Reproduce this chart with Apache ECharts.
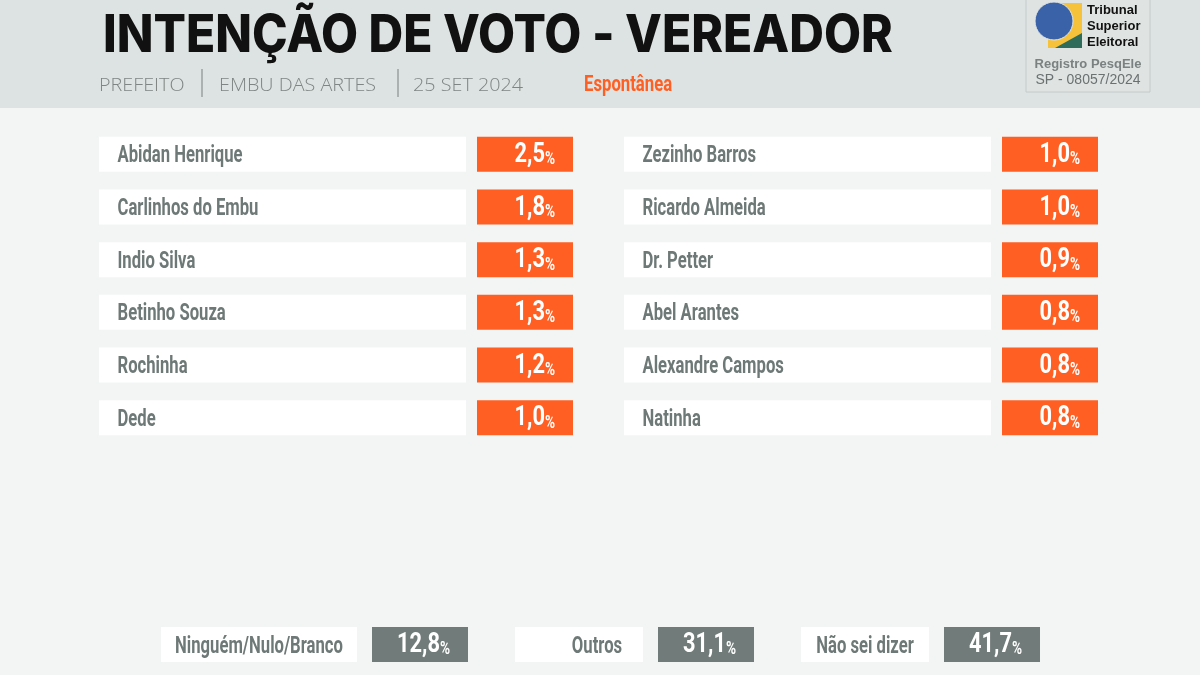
<!DOCTYPE html>
<html><head><meta charset="utf-8">
<script src="https://cdn.jsdelivr.net/npm/echarts@6/dist/echarts.min.js"></script>
<style>html,body{margin:0;padding:0;background:#f3f4f4}#c{width:1200px;height:675px}</style>
</head><body><div id="c"></div>
<script>
// ---------- DATA ----------
const titleText = 'INTENÇÃO DE VOTO - VEREADOR';
const subtitleItems = ['PREFEITO', 'EMBU DAS ARTES', '25 SET 2024'];
const typeLabel = 'Espontânea';
const leftNames = ['Abidan Henrique', 'Carlinhos do Embu', 'Indio Silva', 'Betinho Souza', 'Rochinha', 'Dede'];
const leftValues = [2.5, 1.8, 1.3, 1.3, 1.2, 1.0];
const rightNames = ['Zezinho Barros', 'Ricardo Almeida', 'Dr. Petter', 'Abel Arantes', 'Alexandre Campos', 'Natinha'];
const rightValues = [1.0, 1.0, 0.9, 0.8, 0.8, 0.8];
const otherNames = ['Ninguém/Nulo/Branco', 'Outros', 'Não sei dizer'];
const otherValues = [12.8, 31.1, 41.7];
const logoLines = ['Tribunal', 'Superior', 'Eleitoral'];
const registryLines = ['Registro PesqEle', 'SP - 08057/2024'];

// ---------- STYLE ----------
const ORANGE = '#ff5f22', GRAY_BOX = '#717b79', NAME_COLOR = '#6e7977';
const COND = 'Roboto';
const NAME_SX = 0.68, VAL_SX = 0.78;
const OTHER_NAME_W = [196, 128, 128];
const OTHER_TEXT_DX = [0, 18, 0];
const fmt = v => v.toFixed(1).replace('.', ',');

function valueText(v, xr, yc) {
  return {
    type: 'text', x: xr, y: yc, scaleX: VAL_SX,
    style: {
      text: '{v|' + fmt(v) + '}{p|%}', x: 0, y: 0, align: 'right', verticalAlign: 'middle',
      rich: {
        v: { fontFamily: COND, fontWeight: 'bold', fontSize: 28, fill: '#fff', verticalAlign: 'bottom', lineHeight: 28 },
        p: { fontFamily: COND, fontWeight: 'bold', fontSize: 17.5, fill: '#fff', verticalAlign: 'bottom', lineHeight: 21 }
      }
    }
  };
}

function nameText(t, x, y, align) {
  return { type: 'text', x: x, y: y, scaleX: NAME_SX, style: { text: t, x: 0, y: 0, align: align, verticalAlign: 'middle', fontFamily: COND, fontWeight: 'bold', fontSize: 24.5, fill: NAME_COLOR } };
}

function candRender(names) {
  return function (params, api) {
    const i = api.value(1);
    const p = api.coord([0, i]);
    const band = api.size([0, 1])[1];
    const h = band * 0.665;
    const cs = params.coordSys;
    const x0 = cs.x;
    const top = p[1] - h / 2;
    const nameW = cs.width * 367 / 474, gap = cs.width * 11 / 474;
    const valX = x0 + nameW + gap, valW = cs.x + cs.width - valX;
    return {
      type: 'group', children: [
        { type: 'rect', shape: { x: x0, y: top, width: nameW, height: h }, style: { fill: '#fff' } },
        { type: 'rect', shape: { x: valX, y: top, width: valW, height: h }, style: { fill: ORANGE } },
        nameText(names[i], x0 + 18.5, p[1] + 2, 'left'),
        valueText(api.value(2), valX + valW - 18, p[1] + 0.5)
      ]
    };
  };
}

function otherRender(params, api) {
  const i = api.value(0);
  const p = api.coord([i, 0]);
  const bw = api.size([1, 0])[0];
  const cs = params.coordSys;
  const top = cs.y, h = cs.height, yc = top + h / 2;
  const right = p[0] + bw / 2;
  const valW = 96, gap = 15;
  const valX = right - valW;
  const nameW = OTHER_NAME_W[i];
  const nameX = valX - gap - nameW;
  return {
    type: 'group', children: [
      { type: 'rect', shape: { x: nameX, y: top, width: nameW, height: h }, style: { fill: '#fff' } },
      { type: 'rect', shape: { x: valX, y: top, width: valW, height: h }, style: { fill: GRAY_BOX } },
      nameText(otherNames[i], nameX + nameW / 2 + OTHER_TEXT_DX[i], yc + 2, 'center'),
      valueText(api.value(1), right - 18, yc + 0.5)
    ]
  };
}

const hiddenVal = { type: 'value', min: 0, max: 1, show: false };

// header graphics
const sepColor = '#9aa0a0';
const subStyle = { fontFamily: '"Open Sans", sans-serif', fontWeight: 300, fontSize: 19, fill: '#7f8584' };
function subText(t, x) {
  return { type: 'text', x: x, y: 86, scaleX: 1.04, style: Object.assign({ text: t, x: 0, y: 0, verticalAlign: 'middle' }, subStyle) };
}
const logoFont = '"Liberation Sans", Arial, sans-serif';
const graphics = [
  { type: 'rect', shape: { x: 0, y: 0, width: 1200, height: 108 }, style: { fill: '#dde3e2' }, z: -10 },
  { type: 'text', x: 103, y: 36.5, scaleX: 0.923, style: { text: titleText, x: 0, y: 0, verticalAlign: 'middle', fontFamily: 'Inter', fontWeight: 800, fontSize: 52, fill: '#111' } },
  subText(subtitleItems[0], 99),
  { type: 'line', shape: { x1: 202, y1: 69, x2: 202, y2: 97 }, style: { stroke: sepColor, lineWidth: 1.5 } },
  subText(subtitleItems[1], 219),
  { type: 'line', shape: { x1: 398, y1: 69, x2: 398, y2: 97 }, style: { stroke: sepColor, lineWidth: 1.5 } },
  subText(subtitleItems[2], 413),
  { type: 'text', x: 584, y: 85, scaleX: 0.76, style: { text: typeLabel, x: 0, y: 0, verticalAlign: 'middle', fontFamily: COND, fontWeight: 'bold', fontSize: 22, fill: ORANGE } },
  // logo
  { type: 'rect', shape: { x: 1026, y: -1, width: 124, height: 93 }, style: { fill: '#dfe4e3', stroke: '#c4caca', lineWidth: 1 } },
  { type: 'rect', shape: { x: 1048, y: 3, width: 34, height: 45 }, style: { fill: '#f6c23c' } },
  { type: 'polygon', shape: { points: [[1055, 48], [1082, 33], [1082, 48]] }, style: { fill: '#2f6d5a' } },
  { type: 'circle', shape: { cx: 1054, cy: 21, r: 19 }, style: { fill: '#3a62a8', stroke: '#dfe4e3', lineWidth: 1 } },
  { type: 'text', x: 1087, y: 10, style: { text: logoLines[0], verticalAlign: 'middle', fontFamily: logoFont, fontWeight: 'bold', fontSize: 13, fill: '#111' } },
  { type: 'text', x: 1087, y: 26, style: { text: logoLines[1], verticalAlign: 'middle', fontFamily: logoFont, fontWeight: 'bold', fontSize: 13, fill: '#111' } },
  { type: 'text', x: 1087, y: 42, style: { text: logoLines[2], verticalAlign: 'middle', fontFamily: logoFont, fontWeight: 'bold', fontSize: 13, fill: '#111' } },
  { type: 'text', x: 1088, y: 64, style: { text: registryLines[0], align: 'center', verticalAlign: 'middle', fontFamily: logoFont, fontWeight: 'bold', fontSize: 13, fill: '#7b8181' } },
  { type: 'text', x: 1088, y: 80, style: { text: registryLines[1], align: 'center', verticalAlign: 'middle', fontFamily: logoFont, fontSize: 14, fill: '#6b7171' } }
];

const chart = echarts.init(document.getElementById('c'), null, { renderer: 'canvas' });
chart.setOption({
  backgroundColor: '#f3f4f4',
  animation: false,
  graphic: { elements: graphics },
  grid: [
    { left: 99, top: 128, width: 474, height: 316 },
    { left: 624, top: 128, width: 474, height: 316 },
    { left: 182, top: 627, width: 858, height: 35 }
  ],
  xAxis: [
    Object.assign({ gridIndex: 0 }, hiddenVal),
    Object.assign({ gridIndex: 1 }, hiddenVal),
    { gridIndex: 2, type: 'category', data: otherNames, show: false }
  ],
  yAxis: [
    { gridIndex: 0, type: 'category', data: leftNames, inverse: true, show: false },
    { gridIndex: 1, type: 'category', data: rightNames, inverse: true, show: false },
    Object.assign({ gridIndex: 2 }, hiddenVal)
  ],
  series: [
    { type: 'custom', xAxisIndex: 0, yAxisIndex: 0, renderItem: candRender(leftNames), encode: { x: 0, y: 1 }, data: leftValues.map((v, i) => [0, i, v]) },
    { type: 'custom', xAxisIndex: 1, yAxisIndex: 1, renderItem: candRender(rightNames), encode: { x: 0, y: 1 }, data: rightValues.map((v, i) => [0, i, v]) },
    { type: 'custom', xAxisIndex: 2, yAxisIndex: 2, renderItem: otherRender, encode: { x: 0, y: 1 }, data: otherValues.map((v, i) => [i, v]) }
  ]
});
</script></body></html>
